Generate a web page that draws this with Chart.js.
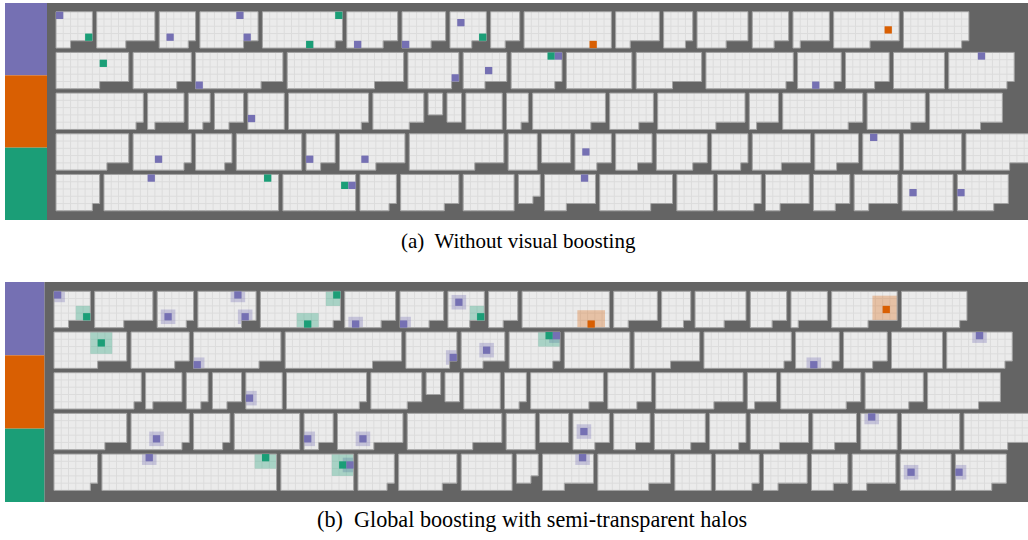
<!DOCTYPE html>
<html>
<head>
<meta charset="utf-8">
<script src="https://cdn.jsdelivr.net/npm/chart.js@4/dist/chart.umd.min.js"></script>
<style>
  body { margin: 0; background: #fff; width: 1028px; height: 540px; position: relative; overflow: hidden; }
  .panel { position: absolute; }
  .cap { position: absolute; font-family: "Liberation Serif", "Times New Roman", serif; color: #000; white-space: pre; line-height: 1; }
</style>
</head>
<body>
<div class="panel" style="left:5px; top:3px; width:1023px; height:217px;"><canvas id="chartA"></canvas></div>
<div class="cap" style="left:401px; top:231px; font-size:21px;">(a)  Without visual boosting</div>
<div class="panel" style="left:5px; top:282px; width:1023px; height:220px;"><canvas id="chartB"></canvas></div>
<div class="cap" style="left:317px; top:509px; font-size:22.2px;">(b)  Global boosting with semi-transparent halos</div>

<script>
// block widths per row, in grid cells (placed left to right)
const rowWidths = [
  [5, 8, 5, 8, 11, 7, 6, 5, 4, 12, 6, 4, 7, 5, 5, 9, 9],
  [10, 8, 12, 16, 7, 6, 7, 9, 9, 12, 6, 6, 7, 9],
  [12, 5, 3, 4, 5, 11, 7, 2, 2, 5, 3, 10, 6, 12, 4, 11, 8, 10],
  [10, 8, 5, 9, 4, 9, 13, 4, 4, 5, 5, 7, 5, 8, 6, 5, 8, 9],
  [6, 24, 10, 5, 8, 7, 3, 7, 10, 5, 6, 6, 5, 6, 7, 7]
];
// block heights in cells
const rowHeights = [
  [5, 5, 5, 5, 5, 5, 5, 5, 5, 5, 5, 5, 5, 5, 5, 5, 5],
  [5, 5, 5, 5, 5, 5, 5, 5, 5, 5, 5, 5, 5, 5],
  [5, 5, 5, 5, 5, 5, 5, 3, 4, 5, 5, 5, 5, 5, 5, 5, 5, 5],
  [5, 5, 5, 5, 5, 5, 5, 5, 4, 5, 5, 5, 5, 5, 5, 5, 5, 5],
  [5, 5, 5, 5, 5, 5, 4, 5, 5, 5, 5, 5, 5, 5, 5, 5]
];
// cells missing from the bottom-right corner of each block
const rowNotches = [
  [3, 4, 1, 2, 1, 2, 2, 2, 2, 0, 4, 1, 3, 2, 4, 4, 1],
  [4, 2, 3, 4, 1, 3, 1, 0, 4, 1, 1, 2, 0, 1],
  [1, 4, 1, 2, 0, 1, 2, 0, 0, 0, 1, 2, 2, 4, 3, 2, 2, 3],
  [3, 1, 1, 0, 2, 4, 4, 0, 0, 2, 2, 2, 1, 4, 3, 0, 0, 3],
  [1, 0, 0, 1, 2, 0, 1, 4, 3, 0, 1, 4, 2, 4, 0, 2]
];
// highlighted cells: [row, block, column, cell row]
const purpleMarks = [
  [0, 0, 0, 0], [0, 2, 1, 3], [0, 3, 5, 0], [0, 3, 6, 3], [0, 5, 1, 4], [0, 6, 0, 4], [0, 7, 1, 1],
  [1, 2, 0, 4], [1, 4, 6, 3], [1, 5, 3, 2], [1, 6, 6, 0], [1, 10, 2, 4], [1, 13, 4, 0],
  [2, 4, 0, 3],
  [3, 1, 3, 3], [3, 4, 0, 3], [3, 5, 3, 3], [3, 9, 1, 2], [3, 15, 1, 0],
  [4, 1, 6, 0], [4, 2, 9, 1], [4, 7, 5, 0], [4, 14, 1, 2], [4, 15, 0, 2]
];
const greenMarks = [
  [0, 0, 4, 3], [0, 4, 6, 4], [0, 4, 10, 0], [0, 7, 4, 3],
  [1, 0, 6, 1], [1, 6, 5, 0],
  [4, 1, 22, 0], [4, 2, 8, 1]
];
const orangeMarks = [[0, 9, 9, 4], [0, 15, 7, 2]];

const GAP = 0.592;   // space between blocks, in cells
const PURPLE = '#7570b3', ORANGE = '#d95f02', GREEN = '#1b9e77';

// lay the blocks out
const blocks = rowWidths.map((ws, r) => {
  let x0 = 0;
  return ws.map((w, i) => {
    const b = { x0: x0, y0: r * (5 + GAP), w: w, h: rowHeights[r][i], n: rowNotches[r][i] };
    x0 += w + GAP;
    return b;
  });
});

function markPoints(marks) {
  return marks.map(([r, i, c, k]) => {
    const b = blocks[r][i];
    return { x: b.x0 + c + 0.5, y: b.y0 + k + 0.5, block: b };
  });
}

const groups = [
  { color: PURPLE, halo: 'rgba(117,112,179,0.32)', size: 1.0, points: markPoints(purpleMarks) },
  { color: ORANGE, halo: 'rgba(217,95,2,0.3)', size: 1.9, points: markPoints(orangeMarks) },
  { color: GREEN, halo: 'rgba(27,158,119,0.32)', size: 1.5, points: markPoints(greenMarks) }
];

function blockPath(ctx, b, X, Y) {
  const x0 = X(b.x0), x1 = X(b.x0 + b.w), y0 = Y(b.y0), y1 = Y(b.y0 + b.h);
  ctx.beginPath();
  ctx.moveTo(x0, y0);
  ctx.lineTo(x1, y0);
  if (b.n > 0) {
    const yn = Y(b.y0 + b.h - 1), xn = X(b.x0 + b.w - b.n);
    ctx.lineTo(x1, yn);
    ctx.lineTo(xn, yn);
    ctx.lineTo(xn, y1);
  } else {
    ctx.lineTo(x1, y1);
  }
  ctx.lineTo(x0, y1);
  ctx.closePath();
}

const layoutPlugin = {
  id: 'layout',
  beforeDatasetsDraw(chart, args, opts) {
    const ctx = chart.ctx;
    const xs = chart.scales.x, ys = chart.scales.y;
    const X = v => xs.getPixelForValue(v), Y = v => ys.getPixelForValue(v);
    ctx.save();
    // panel background
    ctx.fillStyle = '#646464';
    ctx.fillRect(X(opts.panelLeft), Y(ys.min), X(xs.max) - X(opts.panelLeft), Y(ys.max) - Y(ys.min));
    // category stripes
    const third = (ys.max - ys.min) / 3;
    [PURPLE, ORANGE, GREEN].forEach((c, k) => {
      ctx.fillStyle = c;
      const top = Y(ys.min + k * third), bot = Y(ys.min + (k + 1) * third);
      ctx.fillRect(X(xs.min), top, X(opts.panelLeft) - X(xs.min), bot - top);
    });
    // blocks with grid cells
    blocks.flat().forEach(b => {
      blockPath(ctx, b, X, Y);
      ctx.fillStyle = '#ebebeb';
      ctx.fill();
      ctx.save();
      ctx.clip();
      ctx.strokeStyle = '#dcdcdc';
      ctx.lineWidth = 1;
      ctx.beginPath();
      for (let k = 1; k < b.w; k++) { ctx.moveTo(X(b.x0 + k), Y(b.y0)); ctx.lineTo(X(b.x0 + k), Y(b.y0 + b.h)); }
      for (let k = 1; k < b.h; k++) { ctx.moveTo(X(b.x0), Y(b.y0 + k)); ctx.lineTo(X(b.x0 + b.w), Y(b.y0 + k)); }
      ctx.stroke();
      if (opts.halos) {
        groups.forEach(g => g.points.filter(p => p.block === b).forEach(p => {
          ctx.fillStyle = g.halo;
          const l = X(p.x - g.size), r = X(p.x + g.size), t = Y(p.y - g.size), bt = Y(p.y + g.size);
          ctx.fillRect(l, t, r - l, bt - t);
        }));
      }
      ctx.restore();
      blockPath(ctx, b, X, Y);
      ctx.strokeStyle = '#a2a2a2';
      ctx.lineWidth = 1;
      ctx.stroke();
    });
    ctx.restore();
  }
};

function cellRadius(c) {
  const s = c.chart.scales.x;
  return Math.abs(s.getPixelForValue(1) - s.getPixelForValue(0)) / Math.SQRT2;
}

function makeChart(id, view) {
  new Chart(document.getElementById(id), {
    type: 'scatter',
    data: {
      datasets: groups.map(g => ({
        data: g.points.map(p => ({ x: p.x, y: p.y })),
        pointStyle: 'rect',
        pointRadius: cellRadius,
        pointBackgroundColor: g.color,
        pointBorderWidth: 0
      }))
    },
    options: {
      responsive: true,
      maintainAspectRatio: false,
      animation: false,
      events: [],
      layout: { padding: 0 },
      plugins: {
        legend: { display: false },
        tooltip: { enabled: false },
        layout: view
      },
      scales: {
        x: { type: 'linear', display: false, min: view.xmin, max: view.xmax },
        y: { type: 'linear', display: false, reverse: true, min: view.ymin, max: view.ymax }
      }
    },
    plugins: [layoutPlugin]
  });
}

makeChart('chartA', { xmin: -7.01, xmax: 133.59, ymin: -1.2, ymax: 28.63, panelLeft: -1.237, halos: false });
makeChart('chartB', { xmin: -6.73, xmax: 133.86, ymin: -1.28, ymax: 28.96, panelLeft: -1.33, halos: true });
</script>
</body>
</html>
